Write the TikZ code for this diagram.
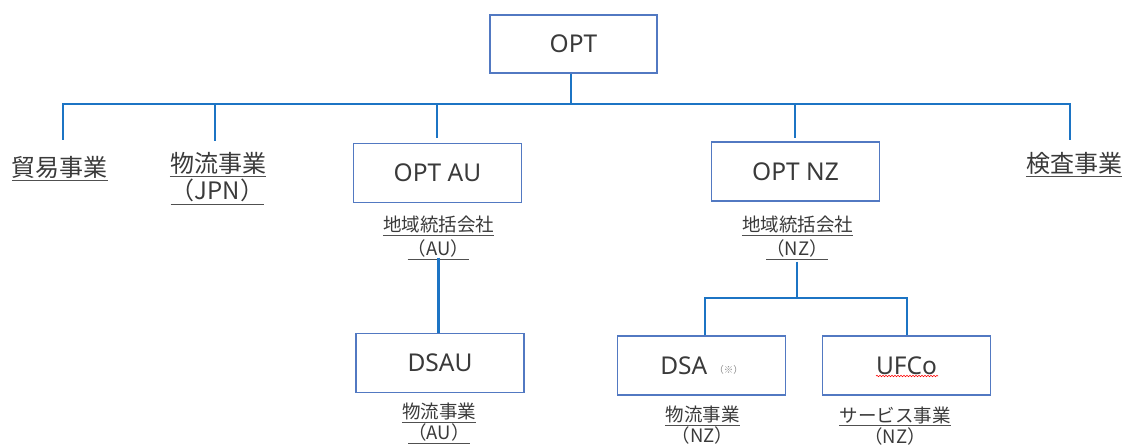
\documentclass[tikz,border=0pt]{standalone}
\usepackage{fontspec}
\setmainfont{Noto Sans}
\newfontfamily\jp{Noto Sans CJK JP}
\usetikzlibrary{decorations.pathmorphing}
\definecolor{txt}{HTML}{3A3A3A}
\definecolor{framecol}{HTML}{5279C2}
\definecolor{conncol}{HTML}{1C74C4}
\definecolor{ulc}{HTML}{505050}
\begin{document}
\begin{tikzpicture}[x=1pt,y=-1pt,
  box/.style={draw=framecol, line width=1.2pt, minimum width=168pt, minimum height=59pt,
    inner sep=0pt, text=txt, font=\fontsize{24.5}{24.5}\selectfont},
  lab/.style={text=txt, inner sep=0pt, font=\jp\fontsize{24}{24}\selectfont},
  slab/.style={text=txt, inner sep=0pt, font=\jp\fontsize{18.5}{18.5}\selectfont},
  conn/.style={draw=conncol, line width=2.7pt},
  ul/.style={draw=ulc, line width=1pt}]
\useasboundingbox (0,0) rectangle (1125,446);

% boxes
\node[box, minimum width=167pt, minimum height=58pt] (opt) at (573.5,44) {OPT};
\node[box] (au) at (437.5,173) {OPT AU};
\node[box] (nz) at (795.5,171.5) {OPT NZ};
\node[box] (dsau) at (440,363) {DSAU};
\node[box] (dsa) at (701.5,365.5) {DSA\hspace{7pt}\raisebox{1pt}{\color{black!45}\jp\fontsize{9.5}{9.5}\selectfont（※）}};
\node[box] (ufco) at (906.5,365.5) {UFCo};

% labels
\node[lab] (trade) at (60,167.5) {貿易事業};
\node[lab] (logi) at (218,163) {物流事業};
\node[lab] (logi2) at (217.5,190.5) {（JPN）};
\node[lab] (insp) at (1074,163) {検査事業};
\node[slab] (au1) at (438.5,225) {地域統括会社};
\node[slab] (au2) at (438.5,248.5) {（AU）};
\node[slab] (nz1) at (797.5,225) {地域統括会社};
\node[slab] (nz2) at (797,248.5) {（NZ）};
\node[slab] (dsaul1) at (439,411.5) {物流事業};
\node[slab] (dsaul2) at (439,432) {（AU）};
\node[slab] (dsal1) at (702.5,414.5) {物流事業};
\node[slab] (dsal2) at (702.5,435.5) {（NZ）};
\node[slab] (ufl1) at (895,415) {サービス事業};
\node[slab] (ufl2) at (895,436.5) {（NZ）};

% underlines
\foreach \n in {trade,logi,logi2,insp,au1,au2,nz1,nz2,dsaul1,dsaul2,dsal1,ufl1}
  \draw[ul] ([yshift=-2pt]\n.south west) -- ([yshift=-2pt]\n.south east);

% spell-check wave under UFCo
\coordinate (w1) at (876,376);
\coordinate (w2) at (938,376);
\draw[red, line width=0.6pt, decorate, decoration={snake, amplitude=0.7pt, segment length=3pt}] (w1) -- (w2);

% connectors
\coordinate (bus) at (571,104);
\coordinate (d1) at (63,140);
\coordinate (d2) at (215,141);
\coordinate (d3) at (437,138);
\coordinate (d4) at (795,138);
\coordinate (d5) at (1070,140);
\draw[conn] (bus |- opt.south) -- (bus);
\draw[conn] (d1) |- (bus) -| (d5);
\draw[conn] (d2 |- bus) -- (d2);
\draw[conn] (d3 |- bus) -- (d3);
\draw[conn] (d4 |- bus) -- (d4);

\draw[conn] (au2.south) -- (au2.south |- dsau.north);

\coordinate (nzbus) at (797,298);
\coordinate (n1) at (705,298);
\coordinate (n2) at (907,298);
\draw[conn] ([yshift=-4pt]nz2.south) -- (nz2.south |- nzbus);
\draw[conn] (n1 |- dsa.north) -- (n1) -- (n2) -- (n2 |- ufco.north);
\end{tikzpicture}
\end{document}
